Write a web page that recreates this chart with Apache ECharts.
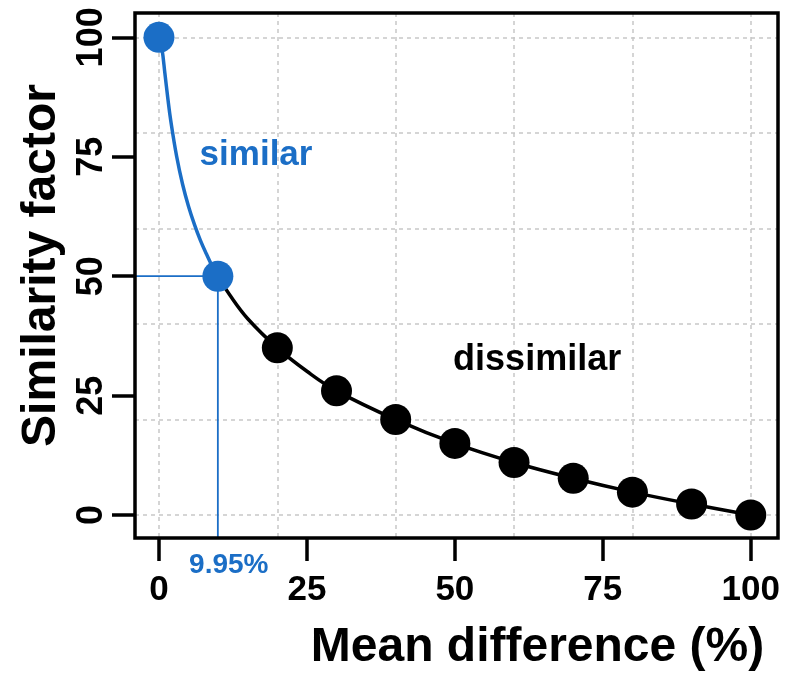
<!DOCTYPE html>
<html><head><meta charset="utf-8">
<script src="https://cdn.jsdelivr.net/npm/echarts@6/dist/echarts.min.js"></script>
<style>html,body{margin:0;padding:0;background:#fff}#c{width:785px;height:673px}</style>
</head><body><div id="c"></div>
<script>
// ---- data ----
const xTicks = [0, 25, 50, 75, 100];
const yTicks = [0, 25, 50, 75, 100];
const gridX = [0, 20, 40, 60, 80, 100];
const gridY = [0, 20, 40, 60, 80, 100];
const similarDotX = [0, 9.95];
const similarDotY = [100, 50];
const dissimDotX = [20, 30, 40, 50, 60, 70, 80, 90, 100];
const dissimDotY = [35, 26, 20, 15, 11, 7.7, 4.8, 2.3, 0];
const similarCurveX = [0, 0.5, 1, 1.5, 2, 3, 4, 5, 6, 7, 8, 9, 9.95];
const similarCurveY = [100, 97.6, 92.5, 87.2, 82.5, 75, 69.2, 64.6, 60.8, 57.5, 54.7, 52.1, 50];
const dissimCurveX = [9.95, 12, 15, 20, 25, 30, 40, 50, 60, 70, 80, 90, 100];
const dissimCurveY = [50, 46, 41.1, 35, 30.1, 26, 20, 15, 11, 7.7, 4.8, 2.3, 0];
const cutoffX = 9.95, cutoffY = 50;
const labelSimilar = 'similar', labelDissimilar = 'dissimilar', labelCutoff = '9.95%';
const xName = 'Mean difference (%)', yName = 'Similarity factor';

const X_MIN = -4.05, X_MAX = 104.6, Y_MIN = -4.8, Y_MAX = 105.1;
const BLUE = '#1b6ec6';
const FONT = 'Liberation Sans';
const zip = (a, b) => a.map((v, i) => [v, b[i]]);

const chart = echarts.init(document.getElementById('c'), null, {renderer: 'canvas'});
const tickStyle = {color: '#000', width: 3.5};
chart.setOption({
  animation: false,
  grid: {left: 135, right: 7, top: 13, bottom: 135, containLabel: false, outerBoundsMode: 'none',
         show: true, borderColor: '#000', borderWidth: 3.5, backgroundColor: 'transparent', z: 10},
  xAxis: [
    {type: 'value', min: X_MIN, max: X_MAX, position: 'bottom',
     axisLine: {show: false, onZero: false},
     axisTick: {show: true, inside: false, customValues: xTicks, length: 23, lineStyle: tickStyle},
     axisLabel: {customValues: xTicks, color: '#000', fontFamily: FONT, fontWeight: 'bold', fontSize: 35, margin: 35},
     splitLine: {show: false},
     name: xName, nameLocation: 'middle', nameGap: 86,
     nameTextStyle: {color: '#000', fontFamily: FONT, fontWeight: 'bold', fontSize: 48, padding: [0, 0, 0, 162]}},
    {type: 'value', min: X_MIN, max: X_MAX, position: 'bottom',
     axisLine: {show: false, onZero: false}, axisLabel: {show: false},
     axisTick: {show: false, customValues: gridX},
     splitLine: {show: true, lineStyle: {color: '#c8c8c8', type: [4, 4], width: 1.5}}}
  ],
  yAxis: [
    {type: 'value', min: Y_MIN, max: Y_MAX, position: 'left',
     axisLine: {show: false, onZero: false},
     axisTick: {show: true, inside: false, customValues: yTicks, length: 23, lineStyle: tickStyle},
     axisLabel: {customValues: yTicks, rotate: 90, color: '#000', fontFamily: FONT, fontWeight: 'bold', fontSize: 36, margin: 25},
     splitLine: {show: false},
     name: yName, nameLocation: 'middle', nameGap: 60,
     nameTextStyle: {color: '#000', fontFamily: FONT, fontWeight: 'bold', fontSize: 48, padding: [0, 0, 0, 20]}},
    {type: 'value', min: Y_MIN, max: Y_MAX, position: 'left',
     axisLine: {show: false, onZero: false}, axisLabel: {show: false},
     axisTick: {show: false, customValues: gridY},
     splitLine: {show: true, lineStyle: {color: '#c8c8c8', type: [4, 4], width: 1.5}}}
  ],
  series: [
    {type: 'line', data: [[X_MIN, cutoffY], [cutoffX, cutoffY], [cutoffX, Y_MIN]], symbol: 'none',
     lineStyle: {color: BLUE, width: 1.8}, z: 2},
    {type: 'line', data: zip(similarCurveX, similarCurveY), smooth: 0.4, symbol: 'none',
     lineStyle: {color: BLUE, width: 3.5}, z: 3},
    {type: 'line', data: zip(dissimCurveX, dissimCurveY), smooth: 0.4, symbol: 'none',
     lineStyle: {color: '#000', width: 3.5}, z: 3},
    {type: 'scatter', data: zip(dissimDotX, dissimDotY), symbolSize: 31,
     itemStyle: {color: '#000', opacity: 1}, z: 4},
    {type: 'scatter', data: zip(similarDotX, similarDotY), symbolSize: 31,
     itemStyle: {color: BLUE, opacity: 1}, z: 5},
    {type: 'scatter', clip: false, symbolSize: 0, z: 6, silent: true,
     itemStyle: {opacity: 1},
     data: [
       {value: [16.4, 75.3], label: {show: true, formatter: labelSimilar, color: BLUE, fontSize: 35}},
       {value: [63.9, 32.4], label: {show: true, formatter: labelDissimilar, color: '#000', fontSize: 36}},
       {value: [11.8, -10.5], label: {show: true, formatter: labelCutoff, color: BLUE, fontSize: 28}}
     ],
     label: {position: 'inside', fontFamily: FONT, fontWeight: 'bold'}}
  ]
});
</script></body></html>
